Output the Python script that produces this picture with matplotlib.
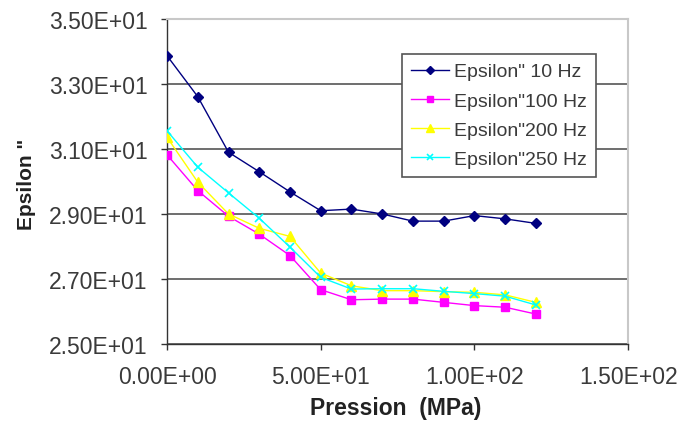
import matplotlib
matplotlib.use("Agg")
import matplotlib.pyplot as plt
from matplotlib.ticker import FuncFormatter

plt.rcParams['font.family'] = ['Liberation Sans', 'DejaVu Sans']

# Pressure steps (MPa)
pression = [0, 10, 20, 30, 40, 50, 60, 70, 80, 90, 100, 110, 120]

# Epsilon'' measured at each frequency
eps_10hz = [33.87, 32.61, 30.90, 30.30, 29.68, 29.10, 29.15, 29.00, 28.78, 28.78, 28.95, 28.85, 28.71]
eps_100hz = [30.82, 29.72, 28.93, 28.38, 27.72, 26.67, 26.36, 26.38, 26.38, 26.28, 26.18, 26.13, 25.92]
eps_200hz = [31.36, 29.98, 29.00, 28.56, 28.31, 27.18, 26.79, 26.64, 26.64, 26.61, 26.59, 26.51, 26.28]
eps_250hz = [31.56, 30.44, 29.65, 28.87, 27.98, 27.05, 26.69, 26.70, 26.70, 26.62, 26.55, 26.47, 26.20]

series_labels = ['Epsilon" 10 Hz', 'Epsilon"100 Hz', 'Epsilon"200 Hz', 'Epsilon"250 Hz']

x_ticks = [0, 50, 100, 150]
y_ticks = [25, 27, 29, 31, 33, 35]


def sci(v, _pos=None):
    return f"{v:.2E}"


fig = plt.figure(figsize=(6.79, 4.35), dpi=100)
ax = fig.add_axes([0.246, 0.207, 0.679, 0.747])

ax.plot(pression, eps_10hz, color='#000080', lw=1.0, marker='D', ms=5,
        mfc='#000080', mec='#000080', label=series_labels[0], zorder=6)
ax.plot(pression, eps_100hz, color='#FF00FF', lw=1.0, marker='s', ms=6,
        mfc='#FF00FF', mec='#FF00FF', label=series_labels[1], zorder=3)
ax.plot(pression, eps_200hz, color='#FFFF00', lw=1.0, marker='^', ms=7,
        mfc='#FFFF00', mec='#FFFF00', label=series_labels[2], zorder=4)
ax.plot(pression, eps_250hz, color='#00FFFF', lw=1.0, marker='x', ms=6,
        mew=1.2, mec='#00FFFF', label=series_labels[3], zorder=5)

ax.set_xlim(0, 150)
ax.set_ylim(25, 35)
ax.set_xticks(x_ticks)
ax.set_yticks(y_ticks)
ax.xaxis.set_major_formatter(FuncFormatter(sci))
ax.yaxis.set_major_formatter(FuncFormatter(sci))

ax.yaxis.grid(True, color='#555555', lw=1.2)
ax.set_axisbelow(True)

for side in ('left', 'bottom'):
    ax.spines[side].set_color('#333333')
    ax.spines[side].set_linewidth(1.0)
for side in ('top', 'right'):
    ax.spines[side].set_color('#c8c8c8')
    ax.spines[side].set_linewidth(1.5)

ax.tick_params(axis='both', direction='out', length=4, width=1, color='#333333',
               labelsize=16.5, labelcolor='#3a3a3a')
ax.tick_params(axis='x', pad=11)
ax.tick_params(axis='y', pad=10)

# axis titles
fig.text(396 / 679, 1 - 409 / 435, 'Pression  (MPa)', fontsize=16.5, fontweight='bold',
         ha='center', va='center', color='#222222')
fig.text(27 / 679, 1 - 184 / 435, 'Epsilon "', fontsize=15, fontweight='bold',
         ha='center', va='center', rotation=90, color='#222222')

leg = ax.legend(loc='upper left', bbox_to_anchor=(402 / 679, 1 - 55 / 435),
                bbox_transform=fig.transFigure, fontsize=14, frameon=True,
                fancybox=False, edgecolor='#555555', framealpha=1,
                handlelength=1.95, handletextpad=0.3, labelspacing=0.6,
                borderpad=0.45, borderaxespad=0, markerscale=0.8)
leg.get_frame().set_linewidth(1.2)
for t in leg.get_texts():
    t.set_color('#3a3a3a')

fig.savefig('out.png', dpi=100)
